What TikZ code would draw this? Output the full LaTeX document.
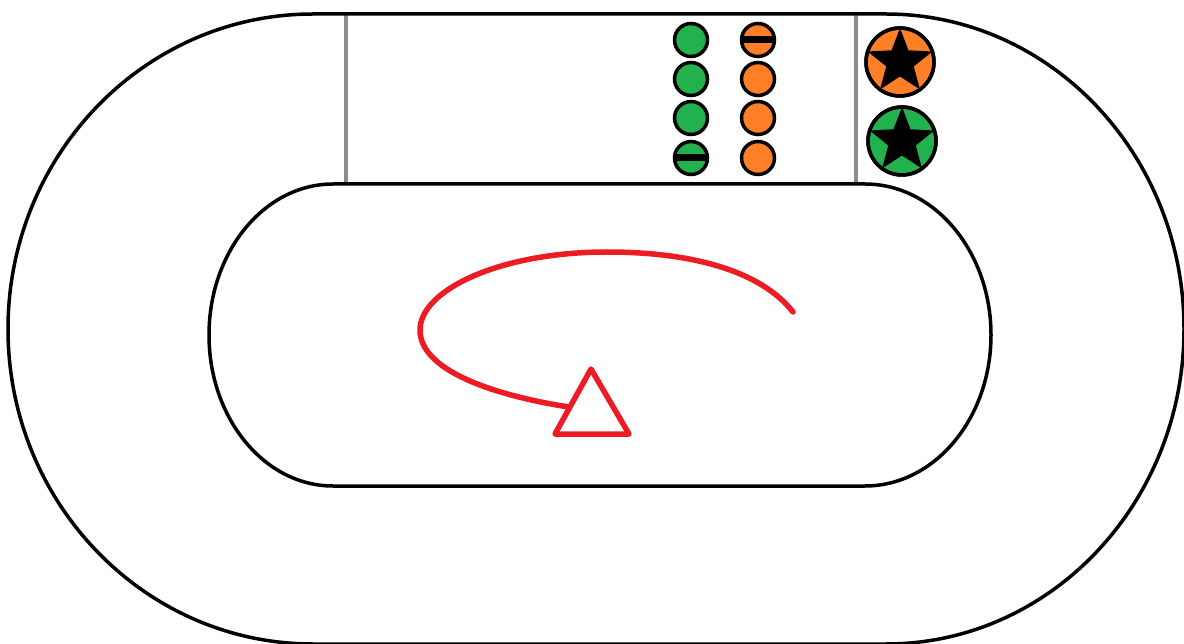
\documentclass[tikz,border=0pt]{standalone}
\usetikzlibrary{shapes.geometric}
\definecolor{pgreen}{HTML}{22B14C}
\definecolor{porange}{HTML}{FF7F27}
\definecolor{pred}{HTML}{ED1C24}
\definecolor{divgray}{HTML}{8C8C8C}
\tikzset{
  track/.style={draw=black, line width=3.5pt},
  divider/.style={draw=divgray, line width=3.5pt},
  token/.style={circle, draw=black, line width=3.5pt, minimum size=33pt, inner sep=0pt, fill=#1},
  bigtoken/.style={circle, draw=black, line width=3.5pt, minimum size=68pt, inner sep=0pt, fill=#1},
  starmark/.style={star, star points=5, star point ratio=2.35, minimum size=68pt, inner sep=0pt, fill=black},
  barline/.style={draw=black, line width=7pt},
  redpath/.style={draw=pred, line width=5.5pt, line cap=round, line join=round}
}
\begin{document}
\begin{tikzpicture}[x=1pt,y=-1pt]
\useasboundingbox (0,0) rectangle (1184,644);
\fill[white] (0,0) rectangle (1184,644);
% dividers
\draw[divider] (346,14) -- (346,184);
\draw[divider] (856,14) -- (856,184);
% outer track
\draw[track] (313,14) -- (886,14) arc[start angle=-90, end angle=90, x radius=298, y radius=315]
  -- (313,644) arc[start angle=90, end angle=270, x radius=305, y radius=315] -- cycle;
% inner track
\draw[track] (333,184) -- (865,184) arc[start angle=-90, end angle=90, x radius=126, y radius=151]
  -- (333,486) arc[start angle=90, end angle=270, x radius=124, y radius=151] -- cycle;
% green column
\node[token=pgreen] (g1) at (691,40) {};
\node[token=pgreen] (g2) at (691,79) {};
\node[token=pgreen] (g3) at (691,118) {};
\node[token=pgreen] (g4) at (691,158) {};
\draw[barline] ([xshift=-16.5pt]g4.center) -- ([xshift=16.5pt]g4.center);
% orange column
\node[token=porange] (o1) at (758,40) {};
\node[token=porange] (o2) at (758,79) {};
\node[token=porange] (o3) at (758,118) {};
\node[token=porange] (o4) at (758,158) {};
\draw[barline] ([xshift=-16.5pt]o1.center) -- ([xshift=16.5pt]o1.center);
% star tokens
\begin{scope}
\node[bigtoken=porange] (s1) at (900,62) {};
\clip (s1.center) circle[radius=34pt];
\node[starmark] (s1star) at (s1.center) {};
\end{scope}
\draw[line width=3.5pt] (s1.center) circle[radius=34pt];
\begin{scope}
\node[bigtoken=pgreen] (s2) at (902,141) {};
\clip (s2.center) circle[radius=34pt];
\node[starmark] (s2star) at (s2.center) {};
\end{scope}
\draw[line width=3.5pt] (s2.center) circle[radius=34pt];
% red rotation arrow
\coordinate (rstart) at (793,312);
\coordinate (rend) at (569,407);
\coordinate (tapex) at (591,369);
\coordinate (tleft) at (555,434);
\coordinate (tright) at (629,434);
\draw[redpath] (rstart) .. controls (760,270) and (690,252) .. (607,252)
  .. controls (500,252) and (420,290) .. (420,330)
  .. controls (420,375) and (510,398) .. (rend);
\draw[redpath, fill=white] (tapex) -- (tleft) -- (tright) -- cycle;
\end{tikzpicture}
\end{document}
